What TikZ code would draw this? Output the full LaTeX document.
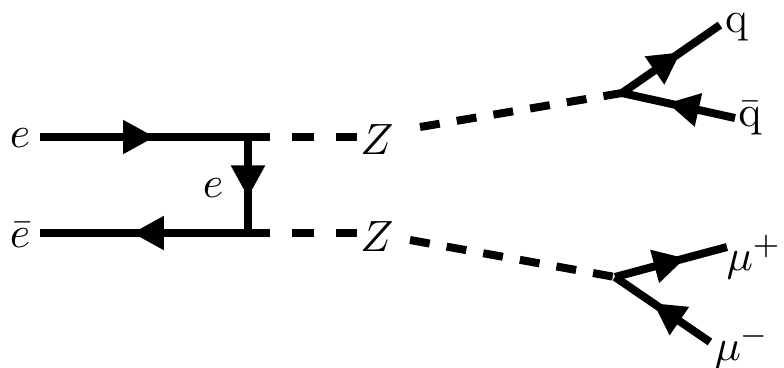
\documentclass[tikz,border=0pt]{standalone}
\usetikzlibrary{arrows.meta,decorations.markings}
\begin{document}
\begin{tikzpicture}[x=0.25pt,y=-0.25pt,
  fermion/.style={line width=2pt,postaction={decorate},
    decoration={markings,mark=at position #1 with {\arrow{Triangle[length=8pt,width=8pt]}}}},
  boson/.style={line width=2pt,dash pattern=on 5.5pt off 5.5pt},
  slboson/.style={line width=2pt,dash pattern=on 5pt off 4.3pt},
  lab/.style={inner sep=0pt,font=\fontsize{11}{13}\selectfont}]
\useasboundingbox (0,0) rectangle (784,367);
% vertices and ends
\coordinate (ein) at (40,137);
\coordinate (ebin) at (40,233);
\coordinate (v1) at (248,137);
\coordinate (v2) at (248,233);
\coordinate (t1) at (270,137);
\coordinate (t2) at (270,233);
\coordinate (d1) at (357,137);
\coordinate (d2) at (357,233);
\coordinate (s1) at (420,127);
\coordinate (s2) at (410,240);
\coordinate (vq) at (622,93);
\coordinate (vm) at (615,277);
\coordinate (qend) at (720,25);
\coordinate (qbend) at (735,118);
\coordinate (mpend) at (727,247);
\coordinate (mmend) at (710,342);
% labels
\node[lab] (le) at (20,138) {$e$};
\node[lab] (lei) at (213,188) {$e$};
\node[lab] (leb) at (20,235) {$\bar e$};
\node[lab] (z1) at (377,140) {$Z$};
\node[lab] (z2) at (377,237) {$Z$};
\node[lab] (lq) at (737,27) {q};
\node[lab] (lqb) at (750,118) {$\bar{\mathrm{q}}$};
\node[lab] (lmp) at (754,257) {$\mu^+$};
\node[lab] (lmm) at (742,347) {$\mu^-$};
% lines
\draw[boson] (v1) -- (d1);
\draw[boson] (v2) -- (d2);
\draw[fermion=0.5] (ein) -- (t1);
\draw[fermion=0.6] (t2) -- (ebin);
\draw[fermion=0.63] (v1) -- (v2);
\draw[slboson] (s1) -- (vq);
\draw[slboson] (s2) -- (vm);
\draw[fermion=0.6] (vq) -- (qend);
\draw[fermion=0.6] (qbend) -- (vq);
\draw[fermion=0.63] (vm) -- (mpend);
\draw[fermion=0.6] (mmend) -- (vm);
\end{tikzpicture}
\end{document}
